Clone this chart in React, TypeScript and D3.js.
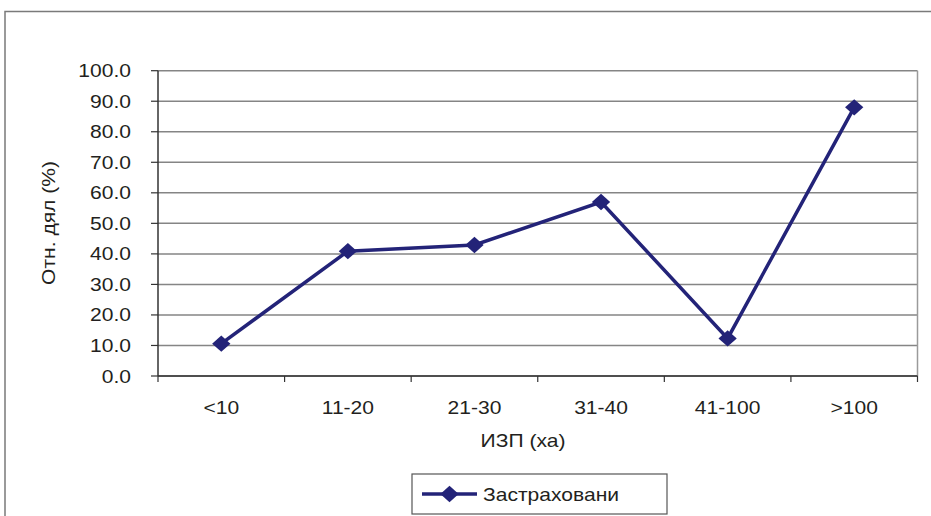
import React from "react";
import * as d3 from "d3";

const categories = ["<10", "11-20", "21-30", "31-40", "41-100", ">100"];
const insured = [10.6, 40.9, 42.9, 57.0, 12.3, 88.0];
const yTicks = [0, 10, 20, 30, 40, 50, 60, 70, 80, 90, 100];
const seriesName = "Застраховани";
const xTitle = "ИЗП (ха)";
const yTitle = "Отн. дял (%)";

const W = 931;
const H = 516;
const plot = { left: 158, right: 917.5, top: 70.7, bottom: 376 };
const navy = "#232378";
const FONT = "'Liberation Sans', Arial, sans-serif";
const SX = 1.17;

function T({ x, y, anchor = "middle", children, rotate = 0 }: any) {
  const tr = rotate
    ? `translate(${x},${y}) rotate(${rotate}) scale(${SX},1)`
    : `translate(${x},${y}) scale(${SX},1)`;
  return (
    <text transform={tr} textAnchor={anchor} fontFamily={FONT} fontSize={18} fill="#231f20">
      {children}
    </text>
  );
}

export default function App() {
  const x = d3.scaleBand<string>().domain(categories).range([plot.left, plot.right]);
  const y = d3.scaleLinear().domain([0, 100]).range([plot.bottom, plot.top]);
  const line = d3
    .line<number>()
    .x((_, i) => (x(categories[i]) as number) + x.bandwidth() / 2)
    .y((d) => y(d));
  const diamond = d3.symbol().type(d3.symbolDiamond2).size(170)();
  const bounds = [...categories.map((c) => x(c) as number), plot.right];

  return (
    <svg
      width={W}
      height={H}
      style={{ position: "absolute", left: 0, top: 0, background: "#fff" }}
    >
      {/* chart frame */}
      <path d={`M5,${H} V11.5 H${W}`} fill="none" stroke="#7a7a7a" strokeWidth={1.5} />

      {/* gridlines */}
      {yTicks.map((t) => (
        <line key={t} x1={plot.left} x2={plot.right} y1={y(t)} y2={y(t)} stroke="#858585" strokeWidth={1.5} />
      ))}
      <line x1={plot.right} x2={plot.right} y1={plot.top} y2={plot.bottom} stroke="#9a9a9a" strokeWidth={1.5} />

      {/* y axis */}
      <line x1={plot.left} x2={plot.left} y1={plot.top} y2={plot.bottom} stroke="#333" strokeWidth={1.5} />
      {yTicks.map((t) => (
        <g key={t}>
          <line x1={plot.left - 7} x2={plot.left} y1={y(t)} y2={y(t)} stroke="#333" strokeWidth={1.2} />
          <T x={131} y={y(t) + 6.5} anchor="end">
            {t.toFixed(1)}
          </T>
        </g>
      ))}

      {/* x axis */}
      <line x1={plot.left} x2={plot.right} y1={plot.bottom} y2={plot.bottom} stroke="#333" strokeWidth={1.5} />
      {bounds.map((b, i) => (
        <line key={i} x1={b} x2={b} y1={plot.bottom} y2={plot.bottom + 6} stroke="#333" strokeWidth={1.2} />
      ))}
      {categories.map((c) => (
        <T key={c} x={(x(c) as number) + x.bandwidth() / 2} y={414}>
          {c}
        </T>
      ))}

      {/* axis titles */}
      <T x={523} y={447}>{xTitle}</T>
      <T x={55} y={223} rotate={-90}>{yTitle}</T>

      {/* series */}
      <path d={line(insured) as string} fill="none" stroke={navy} strokeWidth={3.5} />
      {insured.map((v, i) => (
        <path
          key={i}
          d={diamond as string}
          transform={`translate(${(x(categories[i]) as number) + x.bandwidth() / 2},${y(v)}) scale(1.12,1)`}
          fill={navy}
        />
      ))}

      {/* legend */}
      <rect x={412} y={474} width={255} height={40} fill="#fff" stroke="#555" strokeWidth={1.2} />
      <line x1={422} x2={477} y1={494} y2={494} stroke={navy} strokeWidth={3.5} />
      <path d={diamond as string} transform="translate(449.5,494) scale(1.12,1)" fill={navy} />
      <T x={483} y={501} anchor="start">{seriesName}</T>
    </svg>
  );
}
